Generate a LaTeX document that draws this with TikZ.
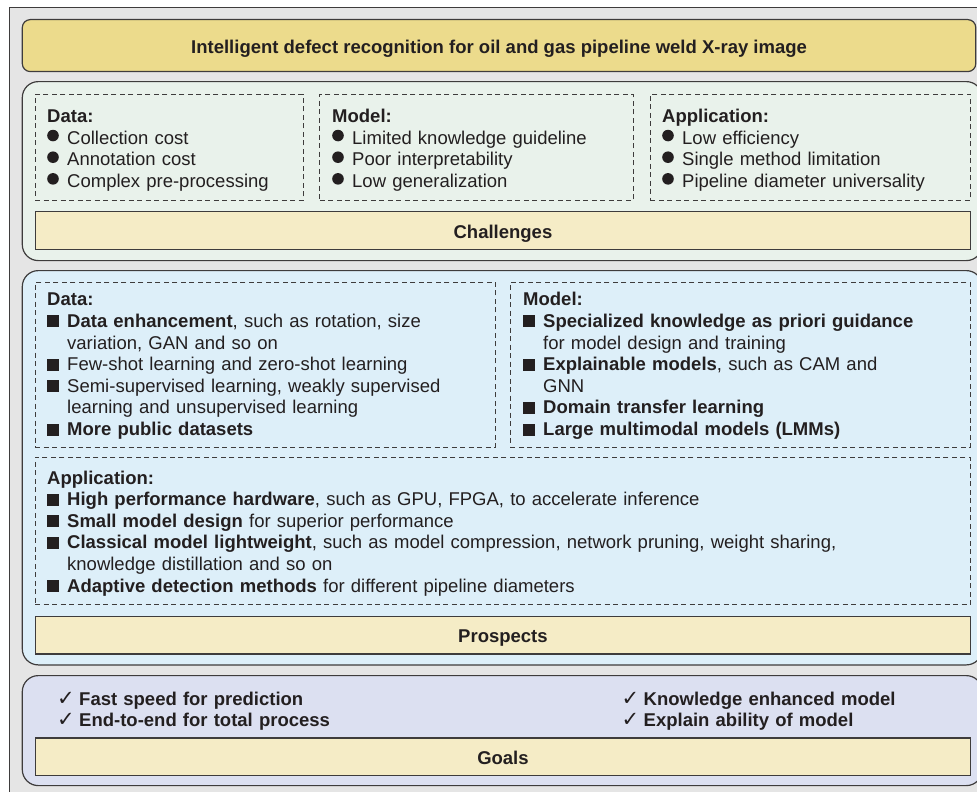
\documentclass[tikz,border=0pt]{standalone}
\usepackage{fontspec}
\setmainfont{Liberation Sans}
\newfontfamily\symfont{DejaVu Sans}
\definecolor{frameG}{RGB}{229,229,229}
\definecolor{titleY}{RGB}{236,219,140}
\definecolor{labelY}{RGB}{245,236,198}
\definecolor{chalG}{RGB}{233,242,235}
\definecolor{prosB}{RGB}{221,239,249}
\definecolor{goalL}{RGB}{220,224,241}
\definecolor{edge}{RGB}{62,60,60}
\definecolor{txt}{RGB}{35,31,32}
\newcommand\cbul{\makebox[20pt][l]{\tikz[baseline=0pt]\fill[txt] (5.8pt,8.6pt) circle[radius=5.8pt];}}
\newcommand\sbul{\makebox[20pt][l]{\rule{12pt}{12pt}}}
\newcommand\chk{\makebox[22pt][l]{{\symfont\fontsize{21}{21}\selectfont ✓}}}
\newcommand\ind{\hspace*{20pt}}
\tikzset{
  panel/.style={draw=edge, line width=1.2pt, rounded corners=16pt, anchor=north west, inner sep=0pt},
  titlebox/.style={draw=edge, line width=1.2pt, rounded corners=8pt, anchor=north west, fill=titleY, inner sep=0pt, text height=16.5pt, text depth=0pt, font=\fontsize{18.5}{21.7}\selectfont\bfseries, text=txt},
  labelbox/.style={draw=edge, line width=1.2pt, anchor=north west, fill=labelY, inner sep=0pt, text height=15.5pt, text depth=0pt, font=\fontsize{18.5}{21.7}\selectfont\bfseries, text=txt},
  dashbox/.style={draw=edge, line width=0.9pt, dash pattern=on 5pt off 3.5pt, anchor=north west, inner sep=0pt},
  body/.style={anchor=base west, inner sep=0pt, text width=900pt, align=left, text=txt, font=\fontsize{18.5}{21.65}\selectfont},
  goaltext/.style={anchor=base west, inner sep=0pt, text width=400pt, align=left, text=txt, font=\fontsize{18.5}{21.3}\selectfont\bfseries}
}
\begin{document}
\begin{tikzpicture}[x=1pt,y=-1pt]
\useasboundingbox (0,0) rectangle (977,792);
\node[draw=edge, line width=1pt, fill=frameG, anchor=north west, minimum width=1000pt, minimum height=820pt, inner sep=0pt] (frame) at (9.3,7.3) {};
% title
\node[titlebox, minimum width=953.5pt, minimum height=52pt] (title) at (21.7,19) {Intelligent defect recognition for oil and gas pipeline weld X-ray image};
% challenges
\node[panel, fill=chalG, minimum width=960pt, minimum height=179pt] (chal) at (21.7,81) {};
\node[dashbox, minimum width=268pt, minimum height=106.3pt] (cdata) at (34.7,93.7) {};
\node[dashbox, minimum width=313.4pt, minimum height=106.3pt] (cmodel) at (319.3,93.7) {};
\node[dashbox, minimum width=320pt, minimum height=106.3pt] (capp) at (650,93.7) {};
\node[body] (cdatat) at (47,122.5) {\textbf{Data:}\\ \cbul Collection cost\\ \cbul Annotation cost\\ \cbul Complex pre-processing};
\node[body] (cmodelt) at (332,122.5) {\textbf{Model:}\\ \cbul Limited knowledge guideline\\ \cbul Poor interpretability\\ \cbul Low generalization};
\node[body] (cappt) at (662,122.5) {\textbf{Application:}\\ \cbul Low efficiency\\ \cbul Single method limitation\\ \cbul Pipeline diameter universality};
\node[labelbox, minimum width=935.3pt, minimum height=38pt] (clabel) at (34.7,211) {Challenges};
% prospects
\node[panel, fill=prosB, minimum width=960pt, minimum height=394.3pt] (pros) at (21.7,270) {};
\node[dashbox, minimum width=460.3pt, minimum height=165pt] (pdata) at (34.7,281.7) {};
\node[dashbox, minimum width=460pt, minimum height=165pt] (pmodel) at (510,281.7) {};
\node[dashbox, minimum width=935.3pt, minimum height=147.6pt] (papp) at (34.7,456.7) {};
\node[body] (pdatat) at (47,305.7) {\textbf{Data:}\\
\sbul\textbf{Data enhancement}, such as rotation, size\\
\ind variation, GAN and so on\\
\sbul Few-shot learning and zero-shot learning\\
\sbul Semi-supervised learning, weakly supervised\\
\ind learning and unsupervised learning\\
\sbul\textbf{More public datasets}};
\node[body] (pmodelt) at (523,305.7) {\textbf{Model:}\\
\sbul\textbf{Specialized knowledge as priori guidance}\\
\ind for model design and training\\
\sbul\textbf{Explainable models}, such as CAM and\\
\ind GNN\\
\sbul\textbf{Domain transfer learning}\\
\sbul\textbf{Large multimodal models (LMMs)}};
\node[body] (pappt) at (47,484) {\textbf{Application:}\\
\sbul\textbf{High performance hardware}, such as GPU, FPGA, to accelerate inference\\
\sbul\textbf{Small model design} for superior performance\\
\sbul\textbf{Classical model lightweight}, such as model compression, network pruning, weight sharing,\\
\ind knowledge distillation and so on\\
\sbul\textbf{Adaptive detection methods} for different pipeline diameters};
\node[labelbox, minimum width=935.3pt, minimum height=37.6pt] (plabel) at (34.7,615.7) {Prospects};
% goals
\node[panel, fill=goalL, minimum width=960pt, minimum height=110pt] (goals) at (21.7,675) {};
\node[goaltext] (gleft) at (57,705) {\chk Fast speed for prediction\\ \chk End-to-end for total process};
\node[goaltext] (gright) at (621.5,705) {\chk Knowledge enhanced model\\ \chk Explain ability of model};
\node[labelbox, minimum width=935.3pt, minimum height=37.7pt] (glabel) at (34.7,737.3) {Goals};
\end{tikzpicture}
\end{document}
